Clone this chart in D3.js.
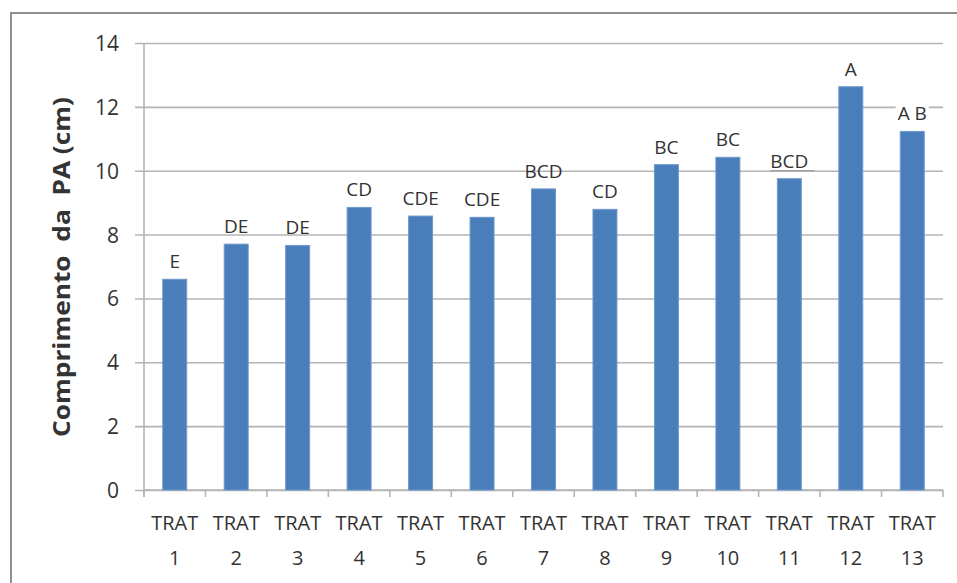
<!DOCTYPE html>
<html>
<head>
<meta charset="utf-8">
<script src="https://cdn.jsdelivr.net/npm/d3@7"></script>
<style>
  html, body { margin: 0; padding: 0; background: #fff; }
  svg { display: block; }
  text { font-family: "Open Sans", "Liberation Sans", sans-serif; fill: #333; }
</style>
</head>
<body>
<svg id="chart" width="957" height="583"></svg>
<script>
// Treatments, mean shoot length (cm) and Tukey grouping letters
const treatments = ["TRAT 1", "TRAT 2", "TRAT 3", "TRAT 4", "TRAT 5", "TRAT 6", "TRAT 7",
                    "TRAT 8", "TRAT 9", "TRAT 10", "TRAT 11", "TRAT 12", "TRAT 13"];
const lengths = [6.60, 7.70, 7.66, 8.85, 8.58, 8.54, 9.43, 8.79, 10.19, 10.42, 9.75, 12.63, 11.23];
const groups = ["E", "DE", "DE", "CD", "CDE", "CDE", "BCD", "CD", "BC", "BC", "BCD", "A", "A B"];
const yTicks = [0, 2, 4, 6, 8, 10, 12, 14];
const yTitle = "Comprimento  da  PA (cm)";

const svg = d3.select("#chart");
const plot = { left: 144, right: 943, top: 43, bottom: 490 };
const textColor = "#333";

// outer chart frame
svg.append("rect")
  .attr("x", 11).attr("y", 13).attr("width", 980).attr("height", 620)
  .attr("fill", "none").attr("stroke", "#8f8f8f").attr("stroke-width", 2);

const x = d3.scaleBand()
  .domain(treatments)
  .range([plot.left, plot.right])
  .paddingInner(0.61)
  .paddingOuter(0.305);

const y = d3.scaleLinear().domain([0, 14]).range([plot.bottom, plot.top]);

// horizontal gridlines with short outside ticks
const yAxis = d3.axisLeft(y)
  .tickValues(yTicks)
  .tickSize(-(plot.right - plot.left + 9))
  .tickFormat(d3.format("d"));

const gy = svg.append("g")
  .attr("transform", `translate(${plot.left - 9},0)`)
  .call(yAxis);
gy.select(".domain").remove();
gy.selectAll(".tick line")
  .attr("stroke", "#b4b4b4").attr("stroke-width", 1.6);
gy.selectAll(".tick text")
  .attr("x", -16)
  .attr("dy", "0.36em")
  .style("font-size", "21px")
  .attr("fill", textColor);

// vertical axis line
svg.append("line")
  .attr("x1", plot.left).attr("x2", plot.left)
  .attr("y1", plot.top).attr("y2", plot.bottom + 7)
  .attr("stroke", "#b4b4b4").attr("stroke-width", 1.6);

// category axis with ticks on the category boundaries
const step = x.step();
const boundaries = treatments.map(d => x(d) - (step - x.bandwidth()) / 2)
  .concat([plot.right]);
svg.append("line")
  .attr("x1", plot.left).attr("x2", plot.right)
  .attr("y1", plot.bottom).attr("y2", plot.bottom)
  .attr("stroke", "#b4b4b4").attr("stroke-width", 1.6);
svg.append("g").selectAll("line")
  .data(boundaries)
  .join("line")
  .attr("x1", d => d).attr("x2", d => d)
  .attr("y1", plot.bottom).attr("y2", plot.bottom + 7)
  .attr("stroke", "#b4b4b4").attr("stroke-width", 1.6);

// category labels on two lines
const xl = svg.append("g").selectAll("text")
  .data(treatments)
  .join("text")
  .attr("text-anchor", "middle")
  .style("font-size", "20px")
  .attr("fill", textColor);
xl.append("tspan")
  .attr("x", d => x(d) + x.bandwidth() / 2)
  .attr("y", 530)
  .text(d => d.split(" ")[0]);
xl.append("tspan")
  .attr("x", d => x(d) + x.bandwidth() / 2)
  .attr("y", 565)
  .text(d => d.split(" ")[1]);

// bars
svg.append("g").selectAll("rect")
  .data(lengths)
  .join("rect")
  .attr("x", (d, i) => x(treatments[i]))
  .attr("width", x.bandwidth())
  .attr("y", d => y(d))
  .attr("height", d => y(0) - y(d))
  .attr("fill", "#4a7ebb")
  .attr("stroke", "#6d99cc")
  .attr("stroke-width", 1);

// grouping letters above the bars
const lbl = svg.append("g").selectAll("g")
  .data(groups)
  .join("g")
  .attr("transform", (d, i) =>
    `translate(${x(treatments[i]) + x.bandwidth() / 2},${y(lengths[i]) - 11})`);
lbl.append("text")
  .attr("text-anchor", "middle")
  .style("font-size", "19px")
  .attr("fill", textColor)
  .text(d => d);
// the last label sits on a gridline, so it gets a white backing
lbl.filter((d, i) => i === groups.length - 1).each(function () {
  const g = d3.select(this);
  const b = g.select("text").node().getBBox();
  g.insert("rect", "text")
    .attr("x", b.x - 2).attr("y", b.y).attr("width", b.width + 4).attr("height", b.height)
    .attr("fill", "#fff");
});
// the TRAT 11 label carries a thin rule beneath it
lbl.filter((d, i) => i === 10).each(function () {
  const g = d3.select(this);
  const b = g.select("text").node().getBBox();
  g.append("line")
    .attr("x1", b.x).attr("x2", b.x + b.width + 6)
    .attr("y1", 3).attr("y2", 3)
    .attr("stroke", "#a0a0a0").attr("stroke-width", 1.2);
});

// axis title
svg.append("text")
  .attr("transform", `translate(70,267) rotate(-90)`)
  .attr("text-anchor", "middle")
  .attr("textLength", 340)
  .attr("lengthAdjust", "spacingAndGlyphs")
  .style("font-size", "23px")
  .style("font-weight", "bold")
  .style("white-space", "pre")
  .attr("fill", "#000")
  .text(yTitle);
</script>
</body>
</html>
